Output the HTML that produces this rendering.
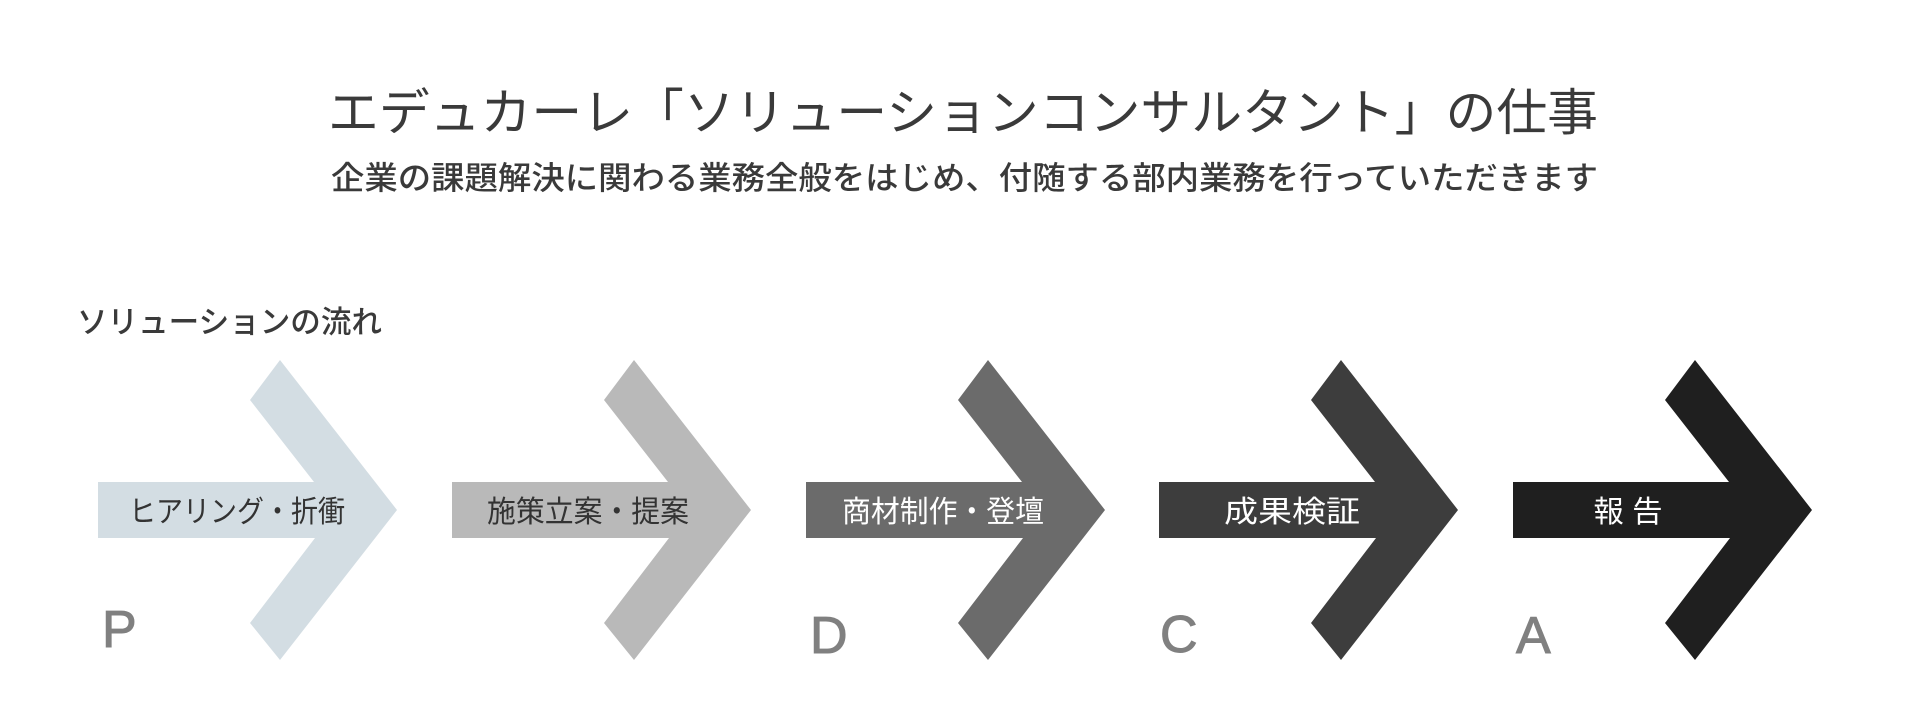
<!DOCTYPE html>
<html><head><meta charset="utf-8"><style>
html,body{margin:0;padding:0;background:#fff;}
svg{display:block;}
text{font-family:"Liberation Sans","Noto Sans CJK JP",sans-serif;}
</style></head><body>
<svg width="1920" height="720" viewBox="0 0 1920 720" xmlns="http://www.w3.org/2000/svg">
<text x="328" y="130" font-size="50" fill="#3a3a3a" textLength="1270" lengthAdjust="spacingAndGlyphs">エデュカーレ「ソリューションコンサルタント」の仕事</text>
<text x="331" y="189" font-size="32" font-weight="500" fill="#3a3a3a" textLength="1267" lengthAdjust="spacingAndGlyphs">企業の課題解決に関わる業務全般をはじめ、付随する部内業務を行っていただきます</text>
<text x="77" y="333" font-size="31" font-weight="500" fill="#3a3a3a" textLength="305" lengthAdjust="spacingAndGlyphs">ソリューションの流れ</text>
<g>
<polygon transform="translate(98,0)" fill="#d3dde3" points="0,482 216,482 152,400 182,360 299,510 182,660 152,623 217,538 0,538"/>
<polygon transform="translate(452,0)" fill="#b9b9b9" points="0,482 216,482 152,400 182,360 299,510 182,660 152,623 217,538 0,538"/>
<polygon transform="translate(806,0)" fill="#6b6b6b" points="0,482 216,482 152,400 182,360 299,510 182,660 152,623 217,538 0,538"/>
<polygon transform="translate(1159,0)" fill="#3d3d3d" points="0,482 216,482 152,400 182,360 299,510 182,660 152,623 217,538 0,538"/>
<polygon transform="translate(1513,0)" fill="#1f1f1f" points="0,482 216,482 152,400 182,360 299,510 182,660 152,623 217,538 0,538"/>
</g>
<g font-size="30" text-anchor="middle">
<text x="237" y="522" fill="#333" textLength="216" lengthAdjust="spacingAndGlyphs">ヒアリング・折衝</text>
<text x="588" y="522" fill="#333" textLength="202" lengthAdjust="spacingAndGlyphs">施策立案・提案</text>
<text x="943" y="522" fill="#fff" textLength="202" lengthAdjust="spacingAndGlyphs">商材制作・登壇</text>
<text x="1292" y="522" fill="#fff" textLength="136" lengthAdjust="spacingAndGlyphs">成果検証</text>
<text x="1628" y="522" fill="#fff" textLength="69" lengthAdjust="spacingAndGlyphs">報 告</text>
</g>
<g font-size="52" fill="#808080" stroke="#808080" stroke-width="1">
<text x="102" y="647">P</text>
<text x="810" y="653">D</text>
<text x="1160" y="652">C</text>
<text x="1516" y="653">A</text>
</g>
</svg>
</body></html>
